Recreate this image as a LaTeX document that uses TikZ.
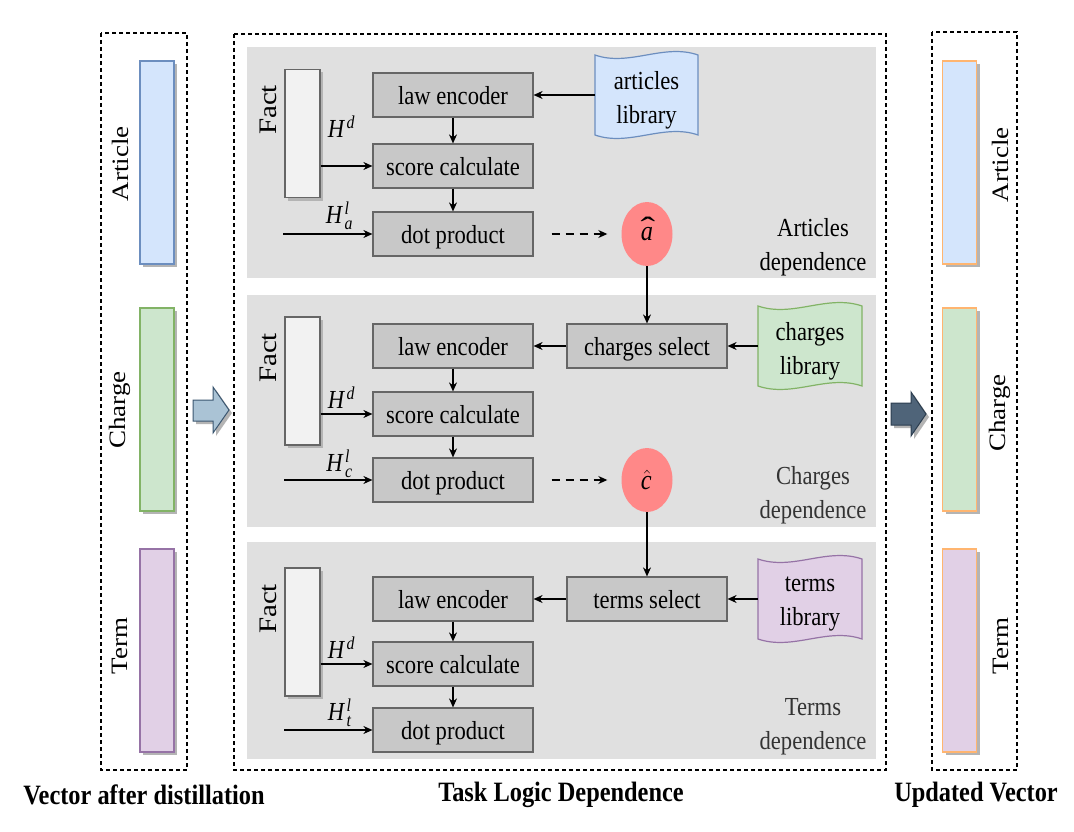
\documentclass[tikz,border=0pt]{standalone}
\usepackage{fontspec}
\setmainfont{Liberation Serif}[FakeStretch=0.87]
\newfontfamily\rotfont{Liberation Serif}
\usepackage{graphicx}
\usetikzlibrary{arrows.meta,calc,shadows,shapes.geometric}
\definecolor{panelgray}{HTML}{E0E0E0}
\definecolor{boxgray}{HTML}{C8C8C8}
\definecolor{boxline}{HTML}{666666}
\definecolor{factfill}{HTML}{F2F2F2}
\definecolor{blueF}{HTML}{D4E5FC}
\definecolor{blueD}{HTML}{6C8EBF}
\definecolor{greenF}{HTML}{CDE6CD}
\definecolor{greenD}{HTML}{82B366}
\definecolor{purpF}{HTML}{E1D0E6}
\definecolor{purpD}{HTML}{9673A6}
\definecolor{orangeD}{HTML}{FFB570}
\definecolor{hatred}{HTML}{FF8888}
\definecolor{arrowL}{HTML}{AAC3D5}
\definecolor{arrowLD}{HTML}{3B5670}
\definecolor{arrowR}{HTML}{4F6479}
\definecolor{arrowRD}{HTML}{2C3E50}
\definecolor{shadowgray}{HTML}{B4B4B4}
\newcommand{\widehatA}{\ooalign{\textit{a}\cr\hidewidth\kern2pt\raisebox{2pt}{\scalebox{1.8}[1.1]{\char"02C6}}\hidewidth\cr}}
\tikzset{
  txt/.style={font=\fontsize{26}{34}\selectfont},
  myshadow/.style={drop shadow={shadow xshift=3pt,shadow yshift=-3pt,fill=shadowgray,opacity=1}},
  proc/.style={txt,draw=boxline,fill=boxgray,line width=1.2pt,minimum width=160pt,minimum height=44pt,inner sep=0pt,text depth=0pt},
  factbox/.style={draw=boxline,fill=factfill,line width=1.2pt,minimum width=35pt,minimum height=128pt,inner sep=0pt,myshadow},
  vbar/.style={line width=1.2pt,minimum width=34pt,minimum height=203pt,inner sep=0pt,myshadow},
  frame/.style={draw,dash pattern=on 4pt off 3pt,line width=1.1pt},
  conn/.style={-{Stealth[length=9pt,width=8pt]},line width=1.2pt},
  dconn/.style={conn,dash pattern=on 8pt off 6pt},
  lib/.style={minimum width=103pt,minimum height=80pt,inner sep=0pt},
  libtext/.style={txt,align=center,inner sep=0pt,yshift=-5pt},
  tape/.style={line width=1.2pt},
  rot/.style={rotate=90,font=\rotfont\fontsize{27}{30}\selectfont,inner sep=0pt},
  factlab/.style={rotate=90,font=\rotfont\fontsize{29}{30}\selectfont,inner sep=0pt},
  capt/.style={font=\bfseries\fontsize{28}{30}\selectfont,inner sep=0pt},
  dep/.style={txt,align=center,inner sep=0pt},
  hatnode/.style={ellipse,fill=hatred,minimum width=51pt,minimum height=64pt,inner sep=0pt,font=\fontsize{28}{30}\selectfont},
  hlab/.style={txt,inner sep=0pt},
  bigarrow/.style={line width=1pt,myshadow}
}
\begin{document}
\begin{tikzpicture}[x=1pt,y=-1pt]
\useasboundingbox (0,0) rectangle (1074,832);
\fill[white] (0,0) rectangle (1074,832);
% frames
\draw[frame] (101,33) rectangle (187,770);
\draw[frame] (234,34) rectangle (886,770);
\draw[frame] (932,32) rectangle (1017,770);
% panels
\fill[panelgray] (247,47) rectangle (876,278);
\fill[panelgray] (247,295) rectangle (876,527);
\fill[panelgray] (247,542) rectangle (876,759);
% library tapes
\draw[tape,draw=blueD,fill=blueF] (595,55) .. controls (629,67) and (664,43) .. (698,55) -- (698,135) .. controls (664,123) and (629,147) .. (595,135) -- cycle;
\draw[tape,draw=greenD,fill=greenF] (758,306) .. controls (793,318) and (827,294) .. (862,306) -- (862,386) .. controls (827,374) and (793,398) .. (758,386) -- cycle;
\draw[tape,draw=purpD,fill=purpF] (758,559) .. controls (793,571) and (827,547) .. (862,559) -- (862,639) .. controls (827,627) and (793,651) .. (758,639) -- cycle;
\node[lib,label={[libtext]center:{articles\\library}}] (alib) at (646.5,95) {};
\node[lib,minimum width=104pt,label={[libtext]center:{charges\\library}}] (clib) at (810,346) {};
\node[lib,minimum width=104pt,label={[libtext]center:{terms\\library}}] (tlib) at (810,599) {};
% fact boxes
\node[factbox] (f1) at (302.5,133.5) {};
\node[factbox] (f2) at (302.5,381) {};
\node[factbox] (f3) at (302.5,632) {};
\node[factlab] (fl1) at (268,110) {\scalebox{1}[0.87]{Fact}};
\node[factlab] (fl2) at (268,358) {\scalebox{1}[0.87]{Fact}};
\node[factlab] (fl3) at (268,609) {\scalebox{1}[0.87]{Fact}};
% process boxes
\node[proc] (le1) at (453,95) {law encoder};
\node[proc] (sc1) at (453,166) {score calculate};
\node[proc] (dp1) at (453,234) {dot product};
\node[proc] (le2) at (453,346) {law encoder};
\node[proc] (sc2) at (453,414) {score calculate};
\node[proc] (dp2) at (453,480) {dot product};
\node[proc] (le3) at (453,599) {law encoder};
\node[proc] (sc3) at (453,664) {score calculate};
\node[proc] (dp3) at (453,730) {dot product};
\node[proc] (csel) at (647,346) {charges select};
\node[proc] (tsel) at (647,599) {terms select};
% hats
\node[hatnode] (ahat) at (647,234) {\widehatA};
\node[hatnode] (chat) at (647,480) {$\hat{\mathit{c}}$};
% H labels
\node[hlab] (hd1) at (342,127) {$\mathit{H}^{\mathit{d}}$};
\node[hlab] (hl1) at (340,216) {$\mathit{H}^{\mathit{l}}_{\mathit{a}}$};
\node[hlab] (hd2) at (342,398) {$\mathit{H}^{\mathit{d}}$};
\node[hlab] (hl2) at (340,464) {$\mathit{H}^{\mathit{l}}_{\mathit{c}}$};
\node[hlab] (hd3) at (342,648) {$\mathit{H}^{\mathit{d}}$};
\node[hlab] (hl3) at (340,713) {$\mathit{H}^{\mathit{l}}_{\mathit{t}}$};
\coordinate (hs1) at (283,234);
\coordinate (hs2) at (284,480);
\coordinate (hs3) at (284,730);
% dependence labels
\node[dep] (d1) at (813,247) {Articles\\dependence};
\node[dep,text=black!80] (d2) at (813,495) {Charges\\dependence};
\node[dep,text=black!80] (d3) at (813,727) {Terms\\dependence};
% connectors panel 1
\draw[conn] (le1) -- (sc1);
\draw[conn] (sc1) -- (dp1);
\draw[conn] (f1.east |- sc1.west) -- (sc1.west);
\draw[conn] (hs1) -- (dp1.west);
\draw[conn] (alib.west) -- (le1.east);
\draw[dconn,shorten <=18pt,shorten >=14pt] (dp1.east) -- (ahat.west);
\draw[conn] (ahat.south) -- (csel.north);
% panel 2
\draw[conn] (clib.west) -- (csel.east);
\draw[conn] (csel.west) -- (le2.east);
\draw[conn] (le2) -- (sc2);
\draw[conn] (sc2) -- (dp2);
\draw[conn] (f2.east |- sc2.west) -- (sc2.west);
\draw[conn] (hs2) -- (dp2.west);
\draw[dconn,shorten <=18pt,shorten >=14pt] (dp2.east) -- (chat.west);
\draw[conn] (chat.south) -- (tsel.north);
% panel 3
\draw[conn] (tlib.west) -- (tsel.east);
\draw[conn] (tsel.west) -- (le3.east);
\draw[conn] (le3) -- (sc3);
\draw[conn] (sc3) -- (dp3);
\draw[conn] (f3.east |- sc3.west) -- (sc3.west);
\draw[conn] (hs3) -- (dp3.west);
% vector bars left
\node[vbar,draw=blueD,fill=blueF] (va) at (157,162.5) {};
\node[vbar,draw=greenD,fill=greenF] (vc) at (157,409.5) {};
\node[vbar,draw=purpD,fill=purpF] (vt) at (157,650.5) {};
\node[rot] (lva) at (120,164) {\scalebox{1}[0.87]{Article}};
\node[rot] (lvc) at (120,410) {\scalebox{1}[0.87]{Charge}};
\node[rot] (lvt) at (120,646) {\scalebox{1}[0.87]{Term}};
% vector bars right
\node[vbar,draw=orangeD,fill=blueF] (ua) at (959.5,162.5) {};
\node[vbar,draw=orangeD,fill=greenF] (uc) at (959.5,409.5) {};
\node[vbar,draw=orangeD,fill=purpF] (ut) at (959.5,650.5) {};
\node[rot] (lua) at (1000,165) {\scalebox{1}[0.87]{Article}};
\node[rot] (luc) at (1000,413) {\scalebox{1}[0.87]{Charge}};
\node[rot] (lut) at (1001,646) {\scalebox{1}[0.87]{Term}};
% big arrows
\draw[bigarrow,draw=arrowLD,fill=arrowL] (193,400) -- (213,400) -- (213,387) -- (229,410) -- (213,433) -- (213,421) -- (193,421) -- cycle;
\draw[bigarrow,draw=arrowRD,fill=arrowR] (891,403) -- (911,403) -- (911,392) -- (926,414) -- (911,436) -- (911,425) -- (891,425) -- cycle;
% captions
\node[capt] (c1) at (144,795) {Vector after distillation};
\node[capt] (c2) at (561,795) {Task Logic Dependence};
\node[capt] (c3) at (976,795) {Updated Vector};
\end{tikzpicture}
\end{document}
